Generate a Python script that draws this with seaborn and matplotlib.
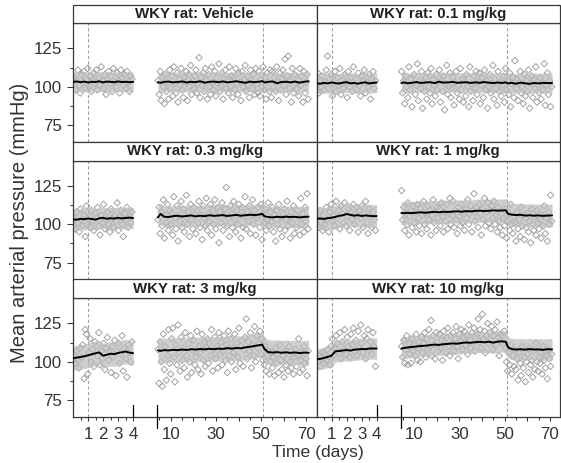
import numpy as np
import pandas as pd
import matplotlib
matplotlib.use("Agg")
import matplotlib.pyplot as plt
from matplotlib.patches import Rectangle
import seaborn as sns

PANELS = ["WKY rat: Vehicle", "WKY rat: 0.1 mg/kg", "WKY rat: 0.3 mg/kg",
          "WKY rat: 1 mg/kg", "WKY rat: 3 mg/kg", "WKY rat: 10 mg/kg"]

# sampling times (days)
T1 = np.linspace(0.08, 3.92, 48)
T2 = np.linspace(4.4, 70.8, 144)
M1_T = np.linspace(0, 4, 17)
M2_T = [4.3, 5.5, 7, 9, 11, 13, 15, 17, 19, 21, 23, 25, 27, 29, 31, 33, 35, 37,
        39, 41, 43, 45, 47, 49, 50.5, 51.5, 53, 55, 57, 59, 61, 63, 65, 67, 69, 71]
DASHED_DAYS = [1, 51]
BAND_HW = [6.5, 6.5, 7.0, 7.5, 8.0, 7.0]

XT_MAJOR = [1, 2, 3, 4, 10, 20, 30, 40, 50, 60, 70]
XT_LABELS = ["1", "2", "3", "4", "10", "", "30", "", "50", "", "70"]
XT_MINOR = [0.5, 1.5, 2.5, 3.5, 5, 15, 25, 35, 45, 55, 65]
YT_MAJOR = [75, 100, 125]
YT_MINOR = [87.5, 112.5]

# ---- Vehicle
veh_m1 = [103.2, 103.5, 103.0, 103.4, 102.8, 103.3, 103.1, 103.6, 102.9, 103.4, 103.2,
          103.0, 103.5, 103.1, 103.3, 103.0, 103.2]
veh_m2 = [103.0, 102.6, 103.2, 103.4, 102.9, 103.1, 103.5, 102.8, 103.3, 103.0, 103.6,
          102.7, 103.2, 103.4, 103.0, 103.5, 102.9, 103.2, 103.6, 103.1, 102.6, 103.4,
          103.0, 103.3, 103.7, 102.8, 103.2, 103.5, 102.4, 103.1, 103.3, 102.9, 103.4,
          102.7, 103.3, 103.6]
veh_y1 = [106, 98, 104, 111, 101, 96, 108, 103, 110, 99, 105, 112, 100, 107, 97, 104,
          109, 102, 111, 98, 106, 101, 113, 104, 99, 108, 95, 105, 110, 102, 107, 97,
          112, 103, 100, 109, 104, 96, 111, 106, 101, 108, 99, 110, 103, 97, 107, 105]
veh_y2 = [104, 95, 110, 91, 106, 100, 89, 108, 97, 103, 92, 111,
          99, 107, 94, 113, 102, 96, 109, 90, 105, 101, 112, 98,
          93, 106, 103, 110, 91, 108, 100, 114, 95, 104, 99, 107,
          111, 96, 102, 119, 93, 106, 101, 109, 97, 112, 104, 92,
          108, 100, 95, 113, 103, 98, 110, 94, 106, 102, 115, 97,
          101, 109, 92, 105, 111, 99, 104, 96, 113, 100, 107, 93,
          106, 98, 112, 102, 95, 109, 103, 91, 110, 100, 105, 114,
          97, 107, 101, 93, 111, 104, 99, 108, 95, 112, 102, 96,
          110, 94, 105, 100, 113, 98, 106, 92, 109, 103, 97, 111,
          93, 110, 100, 106, 97, 113, 103, 91, 109, 98, 105, 111,
          101, 118, 95, 107, 120, 99, 104, 90, 112, 96, 108, 102,
          99, 104, 94, 112, 101, 107, 90, 110, 96, 103, 108, 92]

# ---- 0.1 mg/kg
d01_m1 = [102.3, 102.0, 102.6, 102.2, 102.8, 102.4, 102.1, 102.7, 103.0, 102.3, 102.5,
          102.0, 102.6, 102.9, 102.2, 102.5, 102.8]
d01_m2 = [102.4, 102.9, 102.3, 102.6, 103.1, 102.5, 102.8, 103.0, 102.4, 103.3, 102.7,
          102.9, 103.2, 102.6, 102.8, 103.0, 102.5, 102.9, 102.6, 103.1, 102.7, 102.4,
          102.8, 102.5, 102.9, 102.2, 102.6, 102.0, 102.7, 102.3, 101.9, 102.5, 102.2,
          102.6, 102.4, 102.5]
d01_y1 = [109, 96, 104, 100, 107, 98, 103, 111, 120, 99, 105, 108, 94, 102, 110, 97,
          106, 101, 112, 95, 104, 99, 108, 103, 93, 110, 100, 106, 97, 113, 102, 105,
          98, 109, 101, 94, 107, 104, 111, 96, 103, 100, 108, 92, 105, 110, 99, 104]
d01_y2 = [110, 96, 104, 89, 107, 100, 93, 113, 98, 105, 87, 102,
          108, 95, 101, 115, 91, 104, 99, 110, 86, 103, 97, 106,
          92, 109, 100, 96, 112, 89, 105, 101, 94, 108, 98, 103,
          111, 90, 104, 97, 107, 85, 102, 114, 95, 100, 109, 93,
          99, 106, 88, 103, 110, 96, 101, 92, 112, 98, 105, 90,
          104, 94, 108, 100, 87, 113, 97, 102, 91, 107, 99, 110,
          95, 103, 109, 89, 101, 106, 93, 111, 98, 104, 86, 100,
          108, 96, 102, 114, 92, 105, 99, 88, 110, 97, 103, 94,
          101, 107, 90, 112, 98, 104, 95, 109, 87, 102, 106, 93,
          117, 99, 105, 91, 103, 110, 96, 100, 89, 108, 94, 104,
          97, 111, 86, 102, 107, 93, 105, 99, 113, 90, 101, 96,
          106, 92, 103, 98, 115, 88, 101, 109, 95, 104, 87, 100]

# ---- 0.3 mg/kg
d03_m1 = [103.2, 103.0, 103.5, 103.3, 103.8, 103.4, 103.1, 103.9, 104.2, 103.6, 104.0,
          103.7, 104.3, 103.8, 104.1, 104.4, 104.0]
d03_m2 = [104.5, 106.8, 105.0, 104.7, 105.3, 105.6, 105.1, 105.4, 105.8, 105.2, 105.6,
          105.3, 105.9, 105.5, 105.7, 106.0, 105.4, 105.8, 106.1, 105.6, 105.9, 106.2,
          106.0, 106.3, 106.8, 105.2, 104.8, 104.5, 104.9, 104.6, 105.0, 104.7, 104.9,
          104.5, 104.8, 105.0]
d03_y1 = [104, 97, 108, 101, 95, 110, 103, 99, 106, 92, 112, 100, 105, 98, 109, 102,
          96, 107, 104, 111, 99, 93, 106, 101, 113, 97, 103, 108, 100, 95, 110, 104,
          98, 106, 102, 114, 96, 105, 109, 100, 92, 107, 103, 111, 98, 105, 101, 108]
d03_y2 = [103, 111, 94, 108, 99, 116, 91, 106, 101, 113, 96, 109,
          100, 107, 93, 118, 104, 97, 112, 89, 106, 102, 115, 98,
          110, 95, 105, 119, 100, 108, 92, 113, 103, 97, 111, 106,
          94, 109, 101, 115, 98, 106, 90, 112, 104, 99, 117, 96,
          107, 102, 113, 93, 109, 100, 116, 97, 105, 111, 88, 108,
          101, 114, 96, 106, 110, 124, 99, 104, 92, 112, 107, 98,
          115, 103, 95, 109, 100, 113, 106, 91, 111, 98, 105, 118,
          97, 108, 102, 112, 94, 106, 116, 100, 109, 93, 104, 111,
          105, 98, 113, 90, 107, 101, 110, 96, 103, 114, 99, 108,
          102, 111, 95, 106, 89, 109, 100, 113, 97, 104, 92, 107,
          110, 96, 103, 115, 99, 105, 91, 108, 101, 112, 94, 106,
          98, 109, 104, 93, 117, 100, 107, 95, 111, 102, 120, 97]

# ---- 1 mg/kg
d1_m1 = [103.6, 103.8, 103.5, 104.0, 104.3, 104.8, 105.5, 105.9, 106.7, 106.2, 105.6,
         106.0, 105.4, 105.8, 105.5, 105.3, 105.4]
d1_m2 = [107.4, 107.2, 107.5, 107.3, 107.6, 107.8, 107.5, 107.9, 108.1, 107.8, 108.2,
         108.0, 108.3, 108.5, 108.2, 108.6, 108.4, 108.7, 108.9, 108.6, 108.8, 109.1,
         108.9, 109.0, 109.2, 106.8, 106.3, 106.0, 106.2, 105.7, 105.9, 105.6, 105.8,
         105.5, 105.7, 105.8]
d1_y1 = [104, 98, 109, 101, 96, 106, 100, 111, 103, 95, 108, 113, 102, 106, 99, 115,
         104, 109, 97, 112, 107, 101, 114, 99, 105, 110, 96, 108, 103, 113, 100, 106,
         111, 95, 109, 104, 112, 98, 107, 115, 101, 94, 110, 105, 98, 108, 103, 96]
d1_y2 = [122, 103, 111, 96, 107, 100, 114, 93, 105, 109, 98, 112,
         101, 108, 95, 113, 104, 99, 110, 94, 106, 115, 100, 107,
         97, 112, 103, 109, 93, 106, 116, 101, 108, 96, 111, 104,
         110, 99, 114, 105, 95, 108, 102, 113, 97, 107, 117, 100,
         106, 115, 98, 109, 103, 94, 111, 105, 99, 113, 101, 108,
         96, 110, 104, 116, 100, 107, 112, 95, 109, 120, 102, 111,
         105, 98, 113, 107, 93, 110, 103, 117, 99, 108, 114, 101,
         109, 97, 112, 104, 115, 100, 106, 95, 111, 102, 98, 107,
         93, 104, 99, 110, 91, 102, 107, 96, 113, 100, 94, 105,
         101, 89, 108, 97, 103, 92, 111, 99, 106, 90, 104, 98,
         107, 95, 102, 88, 110, 100, 96, 105, 93, 109, 101, 97,
         103, 91, 106, 99, 112, 94, 104, 89, 108, 100, 119, 102]

# ---- 3 mg/kg
d3_m1 = [102.4, 102.7, 103.1, 103.6, 104.2, 104.9, 105.6, 106.1, 104.0, 104.6, 105.3,
         105.0, 105.8, 106.2, 106.7, 106.0, 105.6]
d3_m2 = [107.5, 107.1, 107.6, 107.4, 107.8, 107.6, 108.0, 107.7, 108.2, 108.0, 108.3,
         108.1, 108.5, 108.2, 108.6, 108.4, 108.9, 108.6, 109.0, 108.8, 109.4, 109.8,
         110.3, 110.8, 111.2, 108.3, 106.4, 106.0, 106.3, 105.9, 106.2, 105.8, 106.1,
         105.7, 106.0, 105.9]
d3_y1 = [104, 99, 107, 101, 96, 109, 103, 111, 89, 121, 118, 92, 106, 115, 100, 108,
         97, 113, 110, 104, 119, 98, 107, 102, 112, 95, 109, 116, 101, 106, 93, 110,
         103, 114, 91, 107, 112, 99, 105, 117, 94, 109, 102, 90, 111, 106, 100, 113]
d3_y2 = [108, 86, 113, 100, 84, 118, 95, 110, 88, 104, 121, 99,
         92, 115, 122, 103, 87, 111, 98, 124, 106, 94, 116, 101,
         109, 96, 119, 104, 90, 112, 100, 117, 93, 107, 114, 98,
         103, 120, 95, 110, 106, 92, 118, 101, 113, 97, 109, 115,
         99, 112, 104, 121, 94, 108, 116, 102, 110, 96, 119, 105,
         113, 98, 107, 117, 101, 111, 93, 120, 104, 115, 100, 109,
         106, 118, 95, 112, 103, 122, 99, 110, 114, 97, 108, 116,
         128, 102, 113, 107, 119, 96, 111, 104, 123, 100, 117, 109,
         112, 120, 105, 115, 101, 98, 110, 94, 104, 107, 92, 100,
         106, 96, 103, 91, 109, 99, 105, 93, 111, 101, 95, 104,
         90, 107, 98, 102, 94, 110, 100, 96, 105, 92, 103, 108,
         97, 104, 115, 93, 101, 106, 95, 110, 99, 102, 91, 107]

# ---- 10 mg/kg
d10_m1 = [101.6, 101.9, 102.5, 103.2, 104.0, 106.8, 107.0, 107.4, 107.7, 107.3, 107.9,
          108.1, 108.4, 108.2, 108.6, 108.7, 108.6]
d10_m2 = [108.6, 109.0, 109.3, 109.7, 110.0, 110.3, 110.5, 110.9, 111.2, 111.0, 111.5,
          111.7, 112.0, 111.8, 112.3, 112.6, 112.4, 112.8, 113.0, 112.7, 113.1, 112.5,
          113.2, 113.3, 113.1, 109.5, 108.3, 108.0, 108.2, 107.9, 108.3, 108.0, 108.1,
          107.8, 108.2, 108.1]
d10_y1 = [100, 104, 97, 103, 106, 99, 105, 101, 108, 103, 98, 110, 115, 104, 109, 117,
          112, 106, 119, 102, 113, 108, 121, 105, 116, 110, 103, 118, 111, 122, 107, 114,
          104, 120, 109, 124, 112, 106, 117, 102, 115, 121, 108, 113, 105, 119, 110, 97]
d10_y2 = [110, 103, 114, 99, 108, 117, 98, 112, 105, 99, 115, 107,
          111, 104, 118, 101, 109, 113, 100, 116, 106, 112, 119, 103,
          115, 108, 121, 110, 127, 104, 117, 111, 102, 119, 113, 107,
          118, 109, 114, 101, 120, 112, 106, 116, 122, 110, 104, 117,
          112, 119, 107, 115, 123, 110, 102, 118, 113, 121, 108, 116,
          120, 111, 117, 105, 124, 114, 109, 119, 112, 122, 107, 116,
          118, 128, 113, 121, 109, 131, 115, 120, 106, 117, 125, 112,
          119, 114, 123, 108, 117, 121, 111, 126, 116, 104, 118, 113,
          117, 112, 120, 109, 100, 94, 106, 98, 111, 92, 104, 97,
          108, 95, 102, 88, 106, 99, 91, 110, 96, 103, 87, 100,
          105, 93, 109, 98, 101, 90, 107, 95, 112, 100, 94, 103,
          99, 106, 92, 110, 101, 96, 104, 89, 108, 102, 97, 105]

Y1 = [veh_y1, d01_y1, d03_y1, d1_y1, d3_y1, d10_y1]
Y2 = [veh_y2, d01_y2, d03_y2, d1_y2, d3_y2, d10_y2]
M1 = [veh_m1, d01_m1, d03_m1, d1_m1, d3_m1, d10_m1]
M2 = [veh_m2, d01_m2, d03_m2, d1_m2, d3_m2, d10_m2]

pts, means = [], []
for i, name in enumerate(PANELS):
    pts.append(pd.DataFrame({"panel": name, "seg": 1, "day": T1, "map": Y1[i]}))
    pts.append(pd.DataFrame({"panel": name, "seg": 2, "day": T2, "map": Y2[i]}))
    means.append(pd.DataFrame({"panel": name, "seg": 1, "day": M1_T, "map": M1[i],
                               "hw": BAND_HW[i]}))
    means.append(pd.DataFrame({"panel": name, "seg": 2, "day": M2_T, "map": M2[i],
                               "hw": BAND_HW[i]}))
pts = pd.concat(pts, ignore_index=True)
means = pd.concat(means, ignore_index=True)

# broken time axis: days 0-4 stretched, then a gap, then 4-74 compressed
def fwd(d):
    d = np.asarray(d, dtype=float)
    return np.where(d <= 4, d * 15.0, 84.0 + 2.255 * (d - 4.0))

def inv(u):
    u = np.asarray(u, dtype=float)
    return np.where(u <= 60, u / 15.0,
                    np.where(u < 84, 4.0, 4.0 + (u - 84.0) / 2.255))

sns.set_style("white")
plt.rcParams["font.family"] = ["Liberation Sans", "DejaVu Sans"]
TXT = "#333333"
EDGE = "#3a3a3a"

g = sns.FacetGrid(pts, col="panel", col_wrap=2, col_order=PANELS, sharex=True,
                  sharey=True, despine=False, height=1.5, aspect=1.6)
fig = g.figure
fig.set_size_inches(5.61, 4.63)
fig.subplots_adjust(left=73/561, right=560/561, top=1-23/463, bottom=1-417/463,
                    wspace=0, hspace=18.5/119)
g.set_titles("")
g.set_axis_labels("", "")

XMAX = 74.5
strip_h = 18.5 / 119
n = len(PANELS)
for idx, name in enumerate(PANELS):
    ax = g.axes_dict[name]
    ax.set_xscale("function", functions=(fwd, inv))
    sub = pts[pts.panel == name]
    for seg in (1, 2):
        s = sub[sub.seg == seg]
        sns.scatterplot(data=s, x="day", y="map", ax=ax, marker="D", s=11,
                        facecolors="none", edgecolor="#9c9c9c", linewidth=0.65,
                        zorder=2, legend=False)
    msub = means[means.panel == name]
    for seg in (1, 2):
        m = msub[msub.seg == seg]
        ax.fill_between(m.day, m["map"] - m.hw, m["map"] + m.hw, color="#bcbcbc",
                        alpha=0.72, lw=0, zorder=2.5)
    sns.lineplot(data=msub, x="day", y="map", units="seg", estimator=None,
                 color="black", lw=1.4, ax=ax, zorder=3)
    for dd in DASHED_DAYS:
        ax.axvline(dd, color="#a0a0a0", lw=0.8, ls=(0, (3, 2)), zorder=1)
    ax.set_xlim(0, XMAX)
    ax.set_ylim(64, 141.6)
    ax.set_xlabel("")
    ax.set_ylabel("")
    for sp in ax.spines.values():
        sp.set_color(EDGE)
        sp.set_linewidth(0.9)
    # strip
    ax.add_patch(Rectangle((0, 1), 1, strip_h, transform=ax.transAxes, fc="white",
                           ec=EDGE, lw=0.9, clip_on=False, zorder=5))
    ax.text(0.5, 1 + strip_h / 2, name, transform=ax.transAxes, ha="center",
            va="center", fontsize=10.8, fontweight="bold", color="#222222", zorder=6)

    ax.set_xticks(XT_MAJOR)
    ax.set_xticklabels(XT_LABELS)
    ax.set_xticks(XT_MINOR, minor=True)
    ax.set_yticks(YT_MAJOR)
    ax.set_yticks(YT_MINOR, minor=True)
    bottom = idx >= n - 2
    left = idx % 2 == 0
    ax.tick_params(axis="x", which="major", direction="out", length=3.0, width=0.8,
                   color=EDGE, labelsize=12.2, labelcolor=TXT, pad=4,
                   bottom=bottom, labelbottom=bottom)
    ax.tick_params(axis="x", which="minor", direction="out", length=2.2, width=0.8,
                   color=EDGE, bottom=bottom)
    ax.tick_params(axis="y", which="major", direction="out", length=4.3, width=0.8,
                   color=EDGE, labelsize=12.2, labelcolor=TXT, pad=3.5,
                   left=left, labelleft=left)
    ax.tick_params(axis="y", which="minor", direction="out", length=2.2, width=0.8,
                   color=EDGE, left=left)
    if bottom:
        tr = ax.get_xaxis_transform()
        ax.plot([4, 4], [0, 12/119], transform=tr, color="black", lw=0.9,
                clip_on=False, zorder=6)
        ax.plot([4.000001, 4.000001], [-11/119, 12/119], transform=tr, color="black",
                lw=0.9, clip_on=False, zorder=6)

fig.text(20/561, 1 - 223/463, "Mean arterial pressure (mmHg)", rotation=90,
         ha="center", va="center", fontsize=14.5, color=TXT)
fig.text(318/561, 1 - 453/463, "Time (days)", ha="center", va="center",
         fontsize=12.6, color=TXT)

fig.savefig("out.png", dpi=100)
